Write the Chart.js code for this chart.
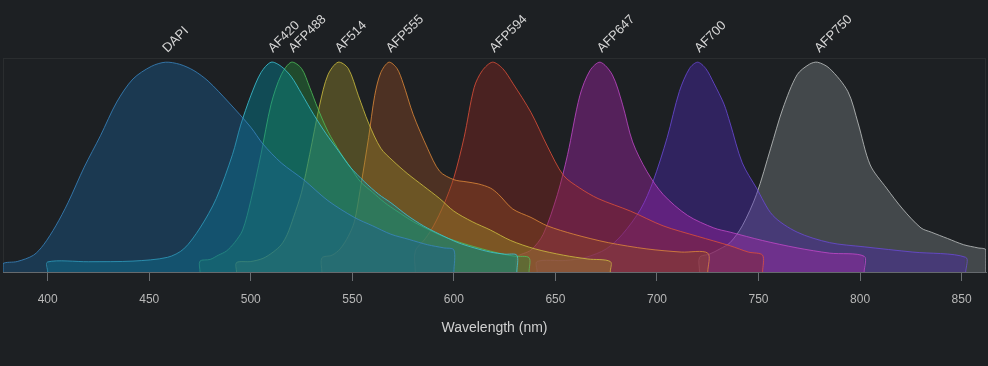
<!DOCTYPE html>
<html>
<head>
<meta charset="utf-8">
<script src="https://cdn.jsdelivr.net/npm/chart.js@4.4.1/dist/chart.umd.min.js"></script>
<style>
  html, body { margin: 0; padding: 0; background: #1d2023; }
  #wrap { width: 988px; height: 366px; position: relative; }
</style>
</head>
<body>
<div id="wrap"><canvas id="spectra"></canvas></div>
<script>
// emission spectra, normalised to 1 at the peak
const dyeNames = ['DAPI', 'AF420', 'AFP488', 'AF514', 'AFP555', 'AFP594', 'AFP647', 'AF700', 'AFP750'];

const dapiNm  = [378,385,393,398,404,410,418,426,434,442,451,458,465,472,479,489,500,506,515,526,538,551,560,569,578,587,595,600];
const dapiVal = [0.04,0.05,0.08,0.13,0.22,0.33,0.50,0.65,0.81,0.92,0.98,1.0,0.99,0.96,0.91,0.81,0.69,0.61,0.52,0.44,0.34,0.26,0.22,0.18,0.155,0.13,0.115,0.105];

const af420Nm  = [400,420,442,459,467,475,483,491,495,500,505,510,515,520,525,531,537,543,549,556,563,569,577,585,593,602,610,618,625,631];
const af420Val = [0.048,0.049,0.052,0.07,0.11,0.21,0.35,0.56,0.70,0.84,0.95,1.0,0.98,0.93,0.85,0.75,0.66,0.58,0.50,0.43,0.37,0.33,0.27,0.22,0.18,0.14,0.115,0.095,0.085,0.08];

const afp488Nm  = [475,480,484,488,492,496,500,505,510,515,520,525,529,533,538,544,549,554,560,566,572,580,588,596,605,614,622,630,637];
const afp488Val = [0.052,0.06,0.08,0.10,0.14,0.20,0.34,0.56,0.80,0.94,1.0,0.97,0.88,0.78,0.67,0.57,0.50,0.43,0.38,0.33,0.29,0.24,0.20,0.165,0.135,0.11,0.09,0.075,0.068];

const af514Nm  = [493,500,506,511,515,518,521,525,529,534,538,543,548,553,558,564,570,577,585,593,600,609,618,628,640,654,666,677];
const af514Val = [0.045,0.05,0.065,0.095,0.13,0.18,0.26,0.38,0.56,0.80,0.94,1.0,0.97,0.84,0.71,0.59,0.53,0.47,0.41,0.35,0.29,0.24,0.20,0.15,0.11,0.08,0.062,0.05];

const afp555Nm  = [535,540,544,548,551,554,558,561,564,568,572,575,580,587,593,600,606,612,618,622,629,638,646,659,676,695,712,725];
const afp555Val = [0.067,0.08,0.11,0.17,0.24,0.40,0.64,0.84,0.95,1.0,0.97,0.90,0.75,0.59,0.48,0.44,0.43,0.42,0.40,0.37,0.30,0.26,0.22,0.18,0.14,0.11,0.095,0.09];

const afp594Nm  = [581,586,590,595,600,605,610,614,619,624,629,638,646,654,662,671,687,703,720,736,745,752];
const afp594Val = [0.10,0.16,0.22,0.32,0.45,0.64,0.88,0.96,1.0,0.97,0.90,0.76,0.60,0.46,0.40,0.35,0.29,0.22,0.17,0.125,0.095,0.08];

const afp647Nm  = [631,638,644,651,656,662,667,672,678,683,688,695,703,715,728,736,752,769,785,802];
const afp647Val = [0.07,0.105,0.18,0.37,0.56,0.84,0.96,1.0,0.94,0.80,0.62,0.48,0.37,0.27,0.21,0.19,0.15,0.115,0.09,0.075];

const af700Nm  = [641,655,665,675,683,692,698,705,711,716,720,724,728,733,736,742,749,757,769,785,802,826,852];
const af700Val = [0.05,0.055,0.07,0.11,0.18,0.30,0.43,0.64,0.86,0.97,1.0,0.97,0.90,0.80,0.71,0.52,0.40,0.27,0.19,0.14,0.12,0.095,0.07];

const afp750Nm  = [721,726,731,736,742,749,756,762,769,775,779,785,794,799,805,813,821,830,835,843,851,858,862];
const afp750Val = [0.07,0.086,0.11,0.14,0.22,0.37,0.59,0.78,0.94,0.99,1.0,0.97,0.86,0.71,0.51,0.40,0.30,0.21,0.19,0.16,0.13,0.115,0.105];

const tickValues = [400, 450, 500, 550, 600, 650, 700, 750, 800, 850];

const allNm  = [dapiNm, af420Nm, afp488Nm, af514Nm, afp555Nm, afp594Nm, afp647Nm, af700Nm, afp750Nm];
const allVal = [dapiVal, af420Val, afp488Val, af514Val, afp555Val, afp594Val, afp647Val, af700Val, afp750Val];

const fills = [
  'rgba(25,94,149,0.4)', 'rgba(0,140,160,0.4)', 'rgba(40,140,60,0.4)',
  'rgba(155,139,42,0.4)', 'rgba(150,76,34,0.4)', 'rgba(143,38,29,0.4)',
  'rgba(170,36,174,0.4)', 'rgba(78,41,184,0.4)', 'rgba(125,133,134,0.4)'
];
const lines = [
  'rgba(58,134,192,0.8)', 'rgba(63,198,216,0.8)', 'rgba(79,191,90,0.8)',
  'rgba(208,192,64,0.8)', 'rgba(224,138,58,0.8)', 'rgba(224,80,58,0.8)',
  'rgba(192,72,200,0.8)', 'rgba(106,74,216,0.8)', 'rgba(184,188,188,0.85)'
];

// each curve is closed down to the baseline at its first and last wavelength
function toPoints(nm, val) {
  let pts = nm.map((x, i) => ({ x: x, y: val[i] }));
  pts.unshift({ x: nm[0], y: 0 });
  pts.push({ x: nm[nm.length - 1], y: 0 });
  return pts;
}

let datasets = dyeNames.map((name, i) => ({
  label: name,
  data: toPoints(allNm[i], allVal[i]),
  backgroundColor: fills[i],
  borderColor: lines[i],
  borderWidth: 1,
  fill: 'origin',
  tension: 0.3,
  pointRadius: 0
}));

const frame = {
  id: 'frame',
  beforeDatasetsDraw(chart) {
    const a = chart.chartArea, ctx = chart.ctx;
    ctx.save();
    ctx.strokeStyle = 'rgba(255,255,255,0.06)';
    ctx.lineWidth = 1;
    ctx.strokeRect(a.left + 0.5, a.top + 0.5, a.right - a.left - 1, a.bottom - a.top);
    ctx.restore();
  }
};

const peakLabels = {
  id: 'peakLabels',
  afterDatasetsDraw(chart) {
    const ctx = chart.ctx, xs = chart.scales.x;
    ctx.save();
    ctx.fillStyle = '#d6d6d6';
    ctx.font = '13px "Liberation Sans", Arial, sans-serif';
    ctx.textAlign = 'left';
    ctx.textBaseline = 'alphabetic';
    dyeNames.forEach((name, i) => {
      const v = allVal[i];
      const peak = allNm[i][v.indexOf(Math.max(...v))];
      ctx.save();
      ctx.translate(xs.getPixelForValue(peak) + 2, chart.chartArea.top - 5);
      ctx.rotate(-Math.PI / 4);
      ctx.fillText(name, 0, 0);
      ctx.restore();
    });
    ctx.restore();
  }
};

new Chart(document.getElementById('spectra'), {
  type: 'line',
  data: { datasets: datasets },
  options: {
    responsive: true,
    maintainAspectRatio: false,
    animation: false,
    layout: { padding: { top: 58, left: 3, right: 2, bottom: 0 } },
    plugins: { legend: { display: false }, tooltip: { enabled: false } },
    scales: {
      x: {
        type: 'linear',
        min: 378,
        max: 862,
        afterBuildTicks: s => { s.ticks = tickValues.map(v => ({ value: v })); },
        afterFit: s => { s.height = 94; },
        grid: { drawOnChartArea: false, drawTicks: true, tickLength: 9, color: '#6a6e72' },
        border: { color: '#5d6165' },
        ticks: { color: '#b8b8b8', font: { size: 12, family: '"Liberation Sans", Arial, sans-serif' }, padding: 11 },
        title: {
          display: true,
          text: 'Wavelength (nm)',
          color: '#d0d0d0',
          font: { size: 14, family: '"Liberation Sans", Arial, sans-serif' },
          padding: { top: 0, bottom: 29 }
        }
      },
      y: { display: false, min: 0, max: 1.02 }
    }
  },
  plugins: [frame, peakLabels]
});
</script>
</body>
</html>
